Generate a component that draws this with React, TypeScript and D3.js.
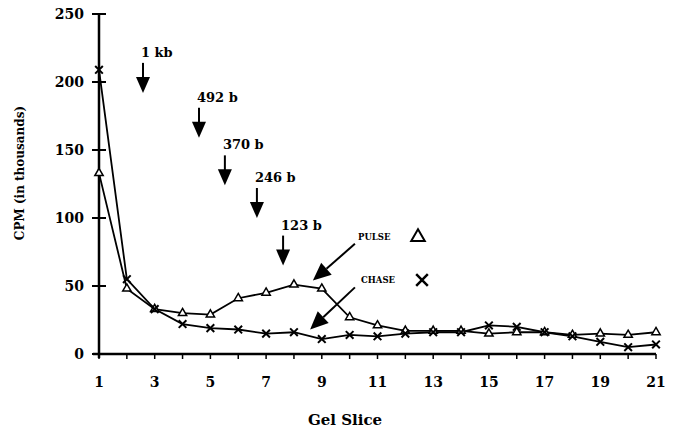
import React from 'react'
import * as d3 from 'd3'

// gel slices 1..21
const slices = d3.range(1, 22)
const pulse = [133, 48, 33, 30, 29, 41, 45, 51, 48, 27, 21, 17, 17, 17, 15, 16, 16, 14, 15, 14, 16]
const chase = [209, 55, 33, 22, 19, 18, 15, 16, 11, 14, 13, 15, 16, 16, 21, 20, 16, 13, 9, 5, 7]

const yTicks = [0, 50, 100, 150, 200, 250]
const xTickLabels = [1, 3, 5, 7, 9, 11, 13, 15, 17, 19, 21]

// size markers: label, slice position, arrow tip value
const markerLabels = ['1 kb', '492 b', '370 b', '246 b', '123 b']
const markerSlices = [2.58, 4.59, 5.52, 6.67, 7.61]
const markerTips = [192, 159, 124, 100, 65]

// legend pointer arrows [tailSlice, tailValue, tipSlice, tipValue]
const pulseArrow = [10.19, 81, 8.68, 54]
const chaseArrow = [10.19, 49, 8.58, 18]

const W = 677
const H = 432
const FONT = '"DejaVu Serif", serif'

function App() {
  const svgRef = React.useRef(null)

  React.useEffect(() => {
    const svg = d3.select(svgRef.current)
    svg.selectAll('*').remove()

    const x = d3.scaleLinear().domain([1, 21]).range([99, 656])
    const y = d3.scaleLinear().domain([0, 250]).range([354, 14])

    // Y axis
    svg.append('line')
      .attr('x1', x(1)).attr('x2', x(1))
      .attr('y1', y(250)).attr('y2', y(0) + 4)
      .attr('stroke', 'black').attr('stroke-width', 2.5)

    svg.selectAll('.ytick')
      .data(yTicks)
      .enter()
      .append('line')
      .attr('x1', x(1) - 7).attr('x2', x(1) + 7)
      .attr('y1', (d) => y(d)).attr('y2', (d) => y(d))
      .attr('stroke', 'black').attr('stroke-width', 2)

    svg.selectAll('.ylab')
      .data(yTicks)
      .enter()
      .append('text')
      .attr('x', 84)
      .attr('y', (d) => y(d) + 5)
      .attr('text-anchor', 'end')
      .attr('font-family', FONT).attr('font-weight', 'bold').attr('font-size', 14)
      .text((d) => d)

    // X axis
    svg.append('line')
      .attr('x1', x(1) - 6).attr('x2', x(21))
      .attr('y1', y(0)).attr('y2', y(0))
      .attr('stroke', 'black').attr('stroke-width', 2.5)

    svg.selectAll('.xtick')
      .data(slices)
      .enter()
      .append('line')
      .attr('x1', (d) => x(d)).attr('x2', (d) => x(d))
      .attr('y1', y(0)).attr('y2', y(0) + 5)
      .attr('stroke', 'black').attr('stroke-width', 1.5)

    svg.selectAll('.xlab')
      .data(xTickLabels)
      .enter()
      .append('text')
      .attr('x', (d) => x(d))
      .attr('y', 387)
      .attr('text-anchor', 'middle')
      .attr('font-family', FONT).attr('font-weight', 'bold').attr('font-size', 14)
      .text((d) => d)

    // axis titles
    svg.append('text')
      .attr('x', 345).attr('y', 425)
      .attr('text-anchor', 'middle')
      .attr('font-family', FONT).attr('font-weight', 'bold').attr('font-size', 15)
      .text('Gel Slice')

    svg.append('text')
      .attr('transform', 'translate(24, 173) rotate(-90)')
      .attr('text-anchor', 'middle')
      .attr('font-family', FONT).attr('font-weight', 'bold').attr('font-size', 12)
      .text('CPM  (in thousands)')

    // series lines
    const line = d3.line().x((d) => x(d[0])).y((d) => y(d[1]))
    const pulsePts = slices.map((s, i) => [s, pulse[i]])
    const chasePts = slices.map((s, i) => [s, chase[i]])

    svg.append('path')
      .attr('d', line(pulsePts))
      .attr('fill', 'none').attr('stroke', 'black').attr('stroke-width', 1.8)
    svg.append('path')
      .attr('d', line(chasePts))
      .attr('fill', 'none').attr('stroke', 'black').attr('stroke-width', 1.8)

    // pulse markers: open triangles
    const tri = d3.symbol().type(d3.symbolTriangle).size(30)
    svg.selectAll('.tri')
      .data(pulsePts)
      .enter()
      .append('path')
      .attr('d', tri)
      .attr('transform', (d) => `translate(${x(d[0])}, ${y(d[1])})`)
      .attr('fill', 'white').attr('stroke', 'black').attr('stroke-width', 1.5)

    // chase markers: x
    const cross = d3.symbol().type(d3.symbolX).size(40)
    svg.selectAll('.crs')
      .data(chasePts)
      .enter()
      .append('path')
      .attr('d', cross)
      .attr('transform', (d) => `translate(${x(d[0])}, ${y(d[1])})`)
      .attr('fill', 'none').attr('stroke', 'black').attr('stroke-width', 2)

    // size marker arrows
    markerLabels.forEach((label, i) => {
      const ax = x(markerSlices[i])
      const tip = y(markerTips[i])
      const top = tip - 30
      svg.append('line')
        .attr('x1', ax).attr('x2', ax)
        .attr('y1', top).attr('y2', tip - 12)
        .attr('stroke', 'black').attr('stroke-width', 2)
      svg.append('path')
        .attr('d', `M${ax - 7},${tip - 16} L${ax + 7},${tip - 16} L${ax},${tip} Z`)
        .attr('fill', 'black')
      svg.append('text')
        .attr('x', ax - 2).attr('y', top - 6)
        .attr('font-family', FONT).attr('font-weight', 'bold').attr('font-size', 13)
        .text(label)
    })

    // legend pointer arrows
    const drawPointer = (a) => {
      const x1 = x(a[0]), y1 = y(a[1]), x2 = x(a[2]), y2 = y(a[3])
      const ang = Math.atan2(y2 - y1, x2 - x1)
      const len = 18, half = 8
      const bx = x2 - len * Math.cos(ang), by = y2 - len * Math.sin(ang)
      const px = -Math.sin(ang) * half, py = Math.cos(ang) * half
      svg.append('line')
        .attr('x1', x1).attr('y1', y1).attr('x2', bx).attr('y2', by)
        .attr('stroke', 'black').attr('stroke-width', 2)
      svg.append('path')
        .attr('d', `M${bx + px},${by + py} L${bx - px},${by - py} L${x2},${y2} Z`)
        .attr('fill', 'black')
    }
    drawPointer(pulseArrow)
    drawPointer(chaseArrow)

    // legend
    svg.append('text')
      .attr('x', 358).attr('y', 240)
      .attr('font-family', FONT).attr('font-weight', 'bold').attr('font-size', 8.5)
      .text('PULSE')
    svg.append('path')
      .attr('d', d3.symbol().type(d3.symbolTriangle).size(80)())
      .attr('transform', 'translate(418, 237)')
      .attr('fill', 'white').attr('stroke', 'black').attr('stroke-width', 2)

    svg.append('text')
      .attr('x', 361).attr('y', 283)
      .attr('font-family', FONT).attr('font-weight', 'bold').attr('font-size', 8.5)
      .text('CHASE')
    svg.append('path')
      .attr('d', d3.symbol().type(d3.symbolX).size(90)())
      .attr('transform', 'translate(422, 280)')
      .attr('fill', 'none').attr('stroke', 'black').attr('stroke-width', 2.5)
  }, [])

  return (
    <svg
      ref={svgRef}
      width={W}
      height={H}
      style={{ position: 'absolute', left: 0, top: 0, background: 'white' }}
    ></svg>
  )
}

export default App
